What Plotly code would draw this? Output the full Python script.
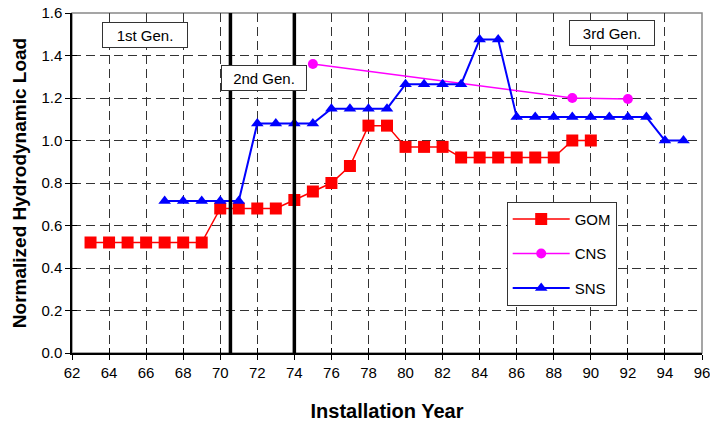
import plotly.graph_objects as go

gom_years = list(range(63, 91))
gom_vals = [0.52, 0.52, 0.52, 0.52, 0.52, 0.52, 0.52,
            0.68, 0.68, 0.68, 0.68, 0.72, 0.76, 0.80, 0.88, 1.07, 1.07,
            0.97, 0.97, 0.97, 0.92, 0.92, 0.92, 0.92, 0.92, 0.92, 1.00, 1.00]

cns_years = [75, 89, 92]
cns_vals = [1.36, 1.20, 1.195]

sns_years = list(range(67, 96))
sns_vals = [0.715, 0.715, 0.715, 0.715, 0.715,
            1.08, 1.08, 1.08, 1.08,
            1.15, 1.15, 1.15, 1.15,
            1.265, 1.265, 1.265, 1.265,
            1.475, 1.475,
            1.11, 1.11, 1.11, 1.11, 1.11, 1.11, 1.11, 1.11,
            1.00, 1.00]

gen_bounds = [70.55, 74.0]
gen_labels = ["1st Gen.", "2nd Gen.", "3rd Gen."]
gen_label_pos = [(65.92, 1.495), (72.35, 1.292), (91.14, 1.507)]

x_ticks = list(range(62, 97, 2))
y_ticks = [0.0, 0.2, 0.4, 0.6, 0.8, 1.0, 1.2, 1.4, 1.6]

FONT = "Liberation Sans, Arial, sans-serif"
FS = 15

fig = go.Figure()
fig.add_trace(go.Scatter(x=gom_years, y=gom_vals, name="GOM", mode="lines+markers",
                         line=dict(color="#ff0000", width=1.5),
                         marker=dict(symbol="square", size=12, color="#ff0000"),
                         legendgroup="a"))
fig.add_trace(go.Scatter(x=cns_years, y=cns_vals, name="CNS", mode="lines+markers",
                         line=dict(color="#ff00ff", width=1.5),
                         marker=dict(symbol="circle", size=10, color="#ff00ff"),
                         legendgroup="b"))
fig.add_trace(go.Scatter(x=sns_years, y=sns_vals, name="SNS", mode="lines+markers",
                         line=dict(color="#0000ff", width=2),
                         marker=dict(symbol="triangle-up", size=11, color="#0000ff"),
                         legendgroup="c", xaxis="x2", yaxis="y2"))

for b in gen_bounds:
    fig.add_shape(type="line", x0=b, x1=b, y0=-0.006, y1=1.624, xref="x", yref="y",
                  line=dict(color="black", width=3.5), layer="above")

for t, (px, py) in zip(gen_labels, gen_label_pos):
    fig.add_annotation(x=px, y=py, xref="x", yref="y", text=t, showarrow=False,
                       font=dict(family=FONT, size=FS, color="black"),
                       bgcolor="white", bordercolor="#333333", borderwidth=1,
                       width=82, height=22, borderpad=1)

# top/right border
fig.add_shape(type="rect", x0=0, x1=1, y0=0, y1=1, xref="paper", yref="paper",
              line=dict(color="#888888", width=1.5), layer="below")

fig.update_layout(
    width=710, height=424,
    margin=dict(l=72, r=8, t=13, b=71, autoexpand=False),
    paper_bgcolor="white", plot_bgcolor="white",
    font=dict(family=FONT, size=FS, color="black"),
    showlegend=True,
    legend=dict(x=0.690, y=0.445, xanchor="left", yanchor="top",
                bgcolor="white", bordercolor="#333333", borderwidth=1,
                font=dict(family=FONT, size=FS, color="black"),
                tracegroupgap=12, itemwidth=57, entrywidth=124),
    xaxis=dict(range=[62, 96], tickvals=x_ticks, ticktext=[str(v) for v in x_ticks],
               showgrid=True, gridcolor="#333333", griddash="9px,5px", gridwidth=1,
               showline=True, linecolor="black", linewidth=1.5,
               ticks="outside", ticklen=5, tickcolor="black", tickwidth=1,
               zeroline=False, automargin=False, ticklabeloverflow="allow",
               title=dict(text="<b>Installation Year</b>", font=dict(family=FONT, size=20),
                          standoff=24),
               tickfont=dict(size=FS)),
    yaxis=dict(range=[0, 1.6], tickvals=y_ticks, ticktext=[f"{v:.1f}" for v in y_ticks],
               showgrid=True, gridcolor="#333333", griddash="9px,5px", gridwidth=1,
               showline=True, linecolor="black", linewidth=1.5,
               ticks="outside", ticklen=5, tickcolor="black", tickwidth=1,
               zeroline=False, automargin=False, ticklabeloverflow="allow",
               title=dict(text="<b>Normalized Hydrodynamic Load</b>", font=dict(family=FONT, size=19),
                          standoff=10),
               tickfont=dict(size=FS)),
    xaxis2=dict(range=[62, 96], overlaying="x", anchor="y2", tickvals=x_ticks,
                showticklabels=False, ticks="inside", ticklen=5, tickcolor="black",
                showgrid=False, zeroline=False, showline=False),
    yaxis2=dict(range=[0, 1.6], overlaying="y", anchor="x2", tickvals=y_ticks,
                showticklabels=False, ticks="inside", ticklen=5, tickcolor="black",
                showgrid=False, zeroline=False, showline=False),
)

fig.write_html("out.html", config={"displayModeBar": False},
               post_script="document.body.style.margin='0';")
